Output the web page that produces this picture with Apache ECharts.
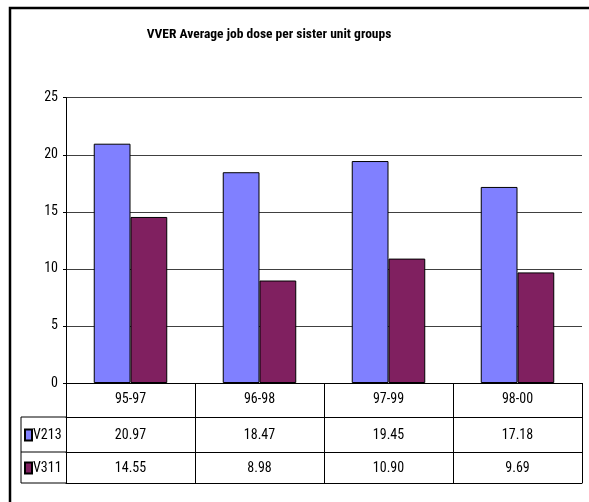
<!DOCTYPE html>
<html>
<head>
<meta charset="utf-8">
<script src="https://cdn.jsdelivr.net/npm/echarts@6/dist/echarts.min.js"></script>
<style>
html,body{margin:0;padding:0;background:#fff;}
#chart{width:589px;height:502px;}
</style>
</head>
<body>
<div id="chart"></div>
<script>
// ---- data ----
var categories = ['95-97', '96-98', '97-99', '98-00'];
var seriesNames = ['V213', 'V311'];
var v213 = [20.97, 18.47, 19.45, 17.18];
var v311 = [14.55, 8.98, 10.90, 9.69];
var yTicks = [0, 5, 10, 15, 20, 25];
var titleText = 'VVER Average job dose per sister unit groups';

// ---- layout ----
var FONT = '"Roboto Condensed", "Liberation Sans", Arial, sans-serif';
var G = {left: 66, right: 7, top: 97.7, bottom: 119};
var rowH = [34, 35, 31];
var tableLeft = 21;
var zeroY = 502 - G.bottom;

var chart = echarts.init(document.getElementById('chart'), null, {renderer: 'canvas'});

function rowAxis(offset, tickLen, labelFn, margin, showLabel, showTick) {
  return {
    type: 'category', gridIndex: 0, position: 'bottom', offset: offset,
    data: categories, boundaryGap: true,
    axisLine: {show: true, lineStyle: {color: '#000', width: 1}},
    axisTick: {show: showTick, length: tickLen, interval: 0, lineStyle: {color: '#000', width: 1}},
    axisLabel: {show: showLabel, interval: 0, margin: margin, verticalAlign: 'middle',
      fontFamily: FONT, fontSize: 14, color: '#000', formatter: labelFn},
    splitLine: {show: false}
  };
}

var y1 = zeroY + rowH[0], y2 = y1 + rowH[1], y3 = y2 + rowH[2];

var option = {
  backgroundColor: '#fff',
  animation: false,
  title: {
    text: titleText, left: 264, top: 23, textAlign: 'center',
    textStyle: {fontFamily: FONT, fontSize: 13.5, fontWeight: 'bold', color: '#000'}
  },
  legend: {
    orient: 'vertical', left: 24, top: 428, itemGap: 19, padding: 0,
    itemWidth: 7, itemHeight: 11, icon: 'rect',
    data: seriesNames,
    textStyle: {fontFamily: FONT, fontSize: 14, color: '#000', padding: [0, 0, 0, -4]}
  },
  grid: {left: G.left, right: G.right, top: G.top, bottom: G.bottom, containLabel: false},
  xAxis: [
    rowAxis(0, rowH[0], function (v) { return v; }, 16.5, true, true),
    rowAxis(rowH[0], rowH[1], function (v, i) { return v213[i].toFixed(2); }, 18, true, true),
    rowAxis(rowH[0] + rowH[1], rowH[2], function (v, i) { return v311[i].toFixed(2); }, 16, true, true),
    rowAxis(rowH[0] + rowH[1] + rowH[2], 0, function () { return ''; }, 0, false, false)
  ],
  yAxis: {
    type: 'value', min: yTicks[0], max: yTicks[yTicks.length - 1], interval: yTicks[1] - yTicks[0],
    axisLine: {show: true, lineStyle: {color: '#000', width: 1}},
    axisTick: {show: true, length: 3, lineStyle: {color: '#000'}},
    axisLabel: {fontFamily: FONT, fontSize: 14, color: '#000', margin: 8},
    splitLine: {show: true, lineStyle: {color: '#404040', width: 1}}
  },
  series: [
    {name: seriesNames[0], type: 'bar', xAxisIndex: 0, data: v213, barGap: '0%', barCategoryGap: '43%',
     itemStyle: {color: '#8080FF', borderColor: '#000', borderWidth: 1}},
    {name: seriesNames[1], type: 'bar', xAxisIndex: 0, data: v311, barGap: '0%', barCategoryGap: '43%',
     itemStyle: {color: '#802060', borderColor: '#000', borderWidth: 1}}
  ],
  graphic: [
    {type: 'rect', shape: {x: 10, y: 8, width: 700, height: 700},
     style: {fill: null, stroke: '#000', lineWidth: 2.5}, silent: true},
    {type: 'line', shape: {x1: tableLeft, y1: y1, x2: G.left, y2: y1}, style: {stroke: '#000', lineWidth: 1}},
    {type: 'line', shape: {x1: tableLeft, y1: y2, x2: G.left, y2: y2}, style: {stroke: '#000', lineWidth: 1}},
    {type: 'line', shape: {x1: tableLeft, y1: y3, x2: G.left, y2: y3}, style: {stroke: '#000', lineWidth: 1}},
    {type: 'line', shape: {x1: tableLeft, y1: y1, x2: tableLeft, y2: y3}, style: {stroke: '#000', lineWidth: 1}}
  ]
};
chart.setOption(option);
</script>
</body>
</html>
